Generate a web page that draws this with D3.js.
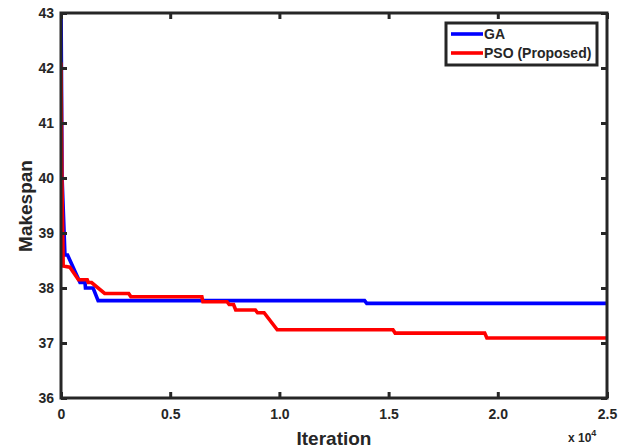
<!DOCTYPE html>
<html>
<head>
<meta charset="utf-8">
<script src="https://cdn.jsdelivr.net/npm/d3@7"></script>
<style>
body { margin: 0; background: #fff; }
text { font-family: "Liberation Sans", Arial, sans-serif; font-weight: bold; fill: #262626; }
</style>
</head>
<body>
<svg width="625" height="447"></svg>
<script>
// iterations are in units of 10^4
var gaX = [0, 0.005, 0.018, 0.03, 0.087, 0.11, 0.112, 0.147, 0.17, 1.39, 1.4, 2.5];
var gaY = [43.2, 40, 38.6, 38.6, 38.1, 38.1, 38.0, 38.0, 37.77, 37.77, 37.72, 37.72];

var psoX = [0, 0.004, 0.01, 0.04, 0.08, 0.12, 0.125, 0.14, 0.2, 0.31, 0.32, 0.645, 0.65, 0.76, 0.77, 0.79, 0.8, 0.89, 0.9, 0.93, 0.99, 1.52, 1.53, 1.94, 1.95, 2.5];
var psoY = [42.1, 40, 38.4, 38.38, 38.15, 38.15, 38.1, 38.1, 37.9, 37.9, 37.84, 37.84, 37.75, 37.75, 37.7, 37.7, 37.6, 37.6, 37.55, 37.55, 37.24, 37.24, 37.18, 37.18, 37.09, 37.09];

var xTicks = [0, 0.5, 1.0, 1.5, 2.0, 2.5];
var xTickLabels = ['0', '0.5', '1.0', '1.5', '2.0', '2.5'];
var yTicks = [36, 37, 38, 39, 40, 41, 42, 43];
var seriesNames = ['GA', 'PSO (Proposed)'];
var seriesColors = ['#0000ff', '#ff0000'];

var svg = d3.select('svg');
var pLeft = 61, pTop = 13, pRight = 607, pBottom = 398;

var x = d3.scaleLinear().domain([0, 2.5]).range([pLeft, pRight]);
var y = d3.scaleLinear().domain([36, 43]).range([pBottom, pTop]);

svg.append('clipPath').attr('id', 'clip')
    .append('rect')
    .attr('x', pLeft).attr('y', pTop)
    .attr('width', pRight - pLeft).attr('height', pBottom - pTop);

var line = d3.line()
    .x(function(d){ return x(d[0]); })
    .y(function(d){ return y(d[1]); });

var series = [d3.zip(gaX, gaY), d3.zip(psoX, psoY)];

svg.append('g').attr('clip-path', 'url(#clip)')
    .selectAll('path')
    .data(series)
    .enter()
    .append('path')
    .attr('d', line)
    .attr('fill', 'none')
    .attr('stroke', function(d, i){ return seriesColors[i]; })
    .attr('stroke-width', 3.6);

// axes
var axisColor = '#262626';
function styleAxis(g) {
    g.select('.domain').remove();
    g.selectAll('.tick line').attr('stroke', axisColor).attr('stroke-width', 3);
    g.selectAll('.tick text').style('font-size', '14px').attr('fill', axisColor);
}

svg.append('g')
    .attr('transform', 'translate(0,' + pBottom + ')')
    .call(d3.axisBottom(x).tickValues(xTicks).tickSize(-6).tickPadding(11)
        .tickFormat(function(d, i){ return xTickLabels[i]; }))
    .call(styleAxis);
svg.append('g')
    .attr('transform', 'translate(0,' + pTop + ')')
    .call(d3.axisTop(x).tickValues(xTicks).tickSize(-6).tickFormat(''))
    .call(styleAxis);
svg.append('g')
    .attr('transform', 'translate(' + pLeft + ',0)')
    .call(d3.axisLeft(y).tickValues(yTicks).tickSize(-6).tickPadding(7)
        .tickFormat(d3.format('d')))
    .call(styleAxis);
svg.append('g')
    .attr('transform', 'translate(' + pRight + ',0)')
    .call(d3.axisRight(y).tickValues(yTicks).tickSize(-6).tickFormat(''))
    .call(styleAxis);

svg.append('rect')
    .attr('x', pLeft).attr('y', pTop)
    .attr('width', pRight - pLeft).attr('height', pBottom - pTop)
    .attr('fill', 'none')
    .attr('stroke', axisColor)
    .attr('stroke-width', 3);

// labels
svg.append('text')
    .attr('x', 334).attr('y', 445)
    .attr('text-anchor', 'middle')
    .style('font-size', '19px')
    .text('Iteration');
svg.append('text')
    .attr('transform', 'translate(32,' + 206 + ') rotate(-90)')
    .attr('text-anchor', 'middle')
    .style('font-size', '19px')
    .text('Makespan');
var mult = svg.append('text')
    .attr('x', 568).attr('y', 442)
    .style('font-size', '12px');
mult.append('tspan').text('x 10');
mult.append('tspan').attr('dy', -6).style('font-size', '9px').text('4');

// legend
var legend = svg.append('g').attr('transform', 'translate(446,23)');
legend.append('rect')
    .attr('width', 151).attr('height', 42)
    .attr('fill', '#fff')
    .attr('stroke', axisColor)
    .attr('stroke-width', 3);
var items = legend.selectAll('.item')
    .data(seriesNames)
    .enter()
    .append('g')
    .attr('class', 'item')
    .attr('transform', function(d, i){ return 'translate(0,' + (11 + i * 19) + ')'; });
items.append('line')
    .attr('x1', 5).attr('x2', 37)
    .attr('stroke', function(d, i){ return seriesColors[i]; })
    .attr('stroke-width', 3.6);
items.append('text')
    .attr('x', 38).attr('y', 5)
    .style('font-size', '14px')
    .text(function(d){ return d; });
</script>
</body>
</html>
